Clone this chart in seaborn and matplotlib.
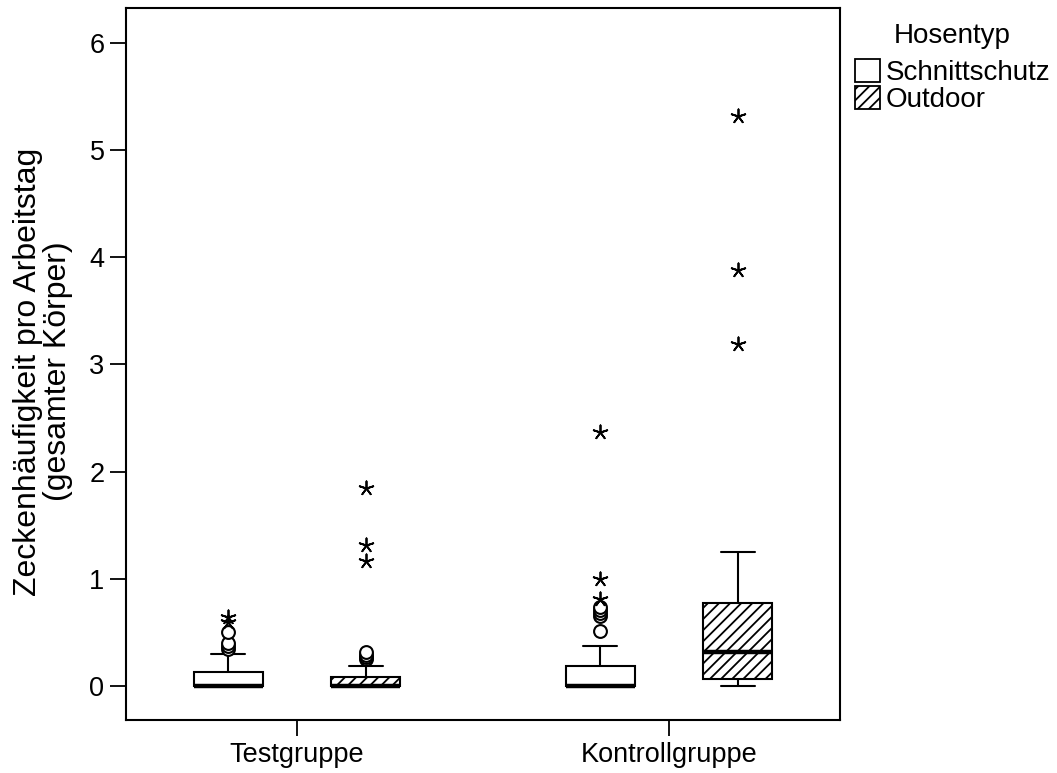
import numpy as np
import pandas as pd
import matplotlib
matplotlib.use("Agg")
import matplotlib.pyplot as plt
from matplotlib.patches import Patch
import seaborn as sns

# ---- data ----
groups = ["Testgruppe", "Kontrollgruppe"]
hose_types = ["Schnittschutz", "Outdoor"]

box_group = ["Testgruppe", "Testgruppe", "Kontrollgruppe", "Kontrollgruppe"]
box_hose = ["Schnittschutz", "Outdoor", "Schnittschutz", "Outdoor"]
whisker_low = [0.0, 0.0, 0.0, 0.0]
q1 = [0.0, 0.0, 0.0, 0.065]
median = [0.0, 0.0, 0.0, 0.32]
q3 = [0.13, 0.08, 0.19, 0.77]
whisker_high = [0.30, 0.19, 0.377, 1.25]

# outliers: circles (mild) and stars (extreme), per box
circle_outliers = [
    [0.35, 0.37, 0.40, 0.50],
    [0.25, 0.27, 0.29, 0.32],
    [0.51, 0.65, 0.68, 0.71, 0.74],
    [],
]
star_outliers = [
    [0.60, 0.64],
    [1.17, 1.32, 1.85],
    [0.81, 1.00, 2.37],
    [3.19, 3.88, 5.32],
]

y_ticks = [0, 1, 2, 3, 4, 5, 6]
y_label = "Zeckenhäufigkeit pro Arbeitstag\n(gesamter Körper)"
legend_title = "Hosentyp"

# ---- build long table for seaborn (5 summary values per box) ----
rows = []
for g, h, lo, a, m, b, hi in zip(box_group, box_hose, whisker_low, q1, median, q3, whisker_high):
    for v in (lo, a, m, b, hi):
        rows.append({"Gruppe": g, "Hosentyp": h, "Wert": v})
df = pd.DataFrame(rows)

sns.set_style("ticks")
plt.rcParams["font.family"] = ["Liberation Sans", "DejaVu Sans"]
plt.rcParams["text.color"] = "black"
plt.rcParams["axes.labelcolor"] = "black"
plt.rcParams["xtick.color"] = "black"
plt.rcParams["ytick.color"] = "black"
plt.rcParams["hatch.linewidth"] = 1.3
plt.rcParams["hatch.color"] = "black"

fig = plt.figure(figsize=(10.57, 7.73), dpi=100)
ax = fig.add_axes([126 / 1057, 1 - 720 / 773, (840 - 126) / 1057, (720 - 7.5) / 773])

BOX_WIDTH = 0.74
GAP = 0.5
LW = 1.5

sns.boxplot(
    data=df, x="Gruppe", y="Wert", hue="Hosentyp",
    order=groups, hue_order=hose_types,
    palette={"Schnittschutz": "white", "Outdoor": "white"},
    saturation=1, linecolor="black", linewidth=LW,
    width=BOX_WIDTH, gap=GAP, whis=(0, 100), showfliers=False,
    medianprops=dict(linewidth=3.2, color="black"),
    legend=False, ax=ax,
)

# hatch the Outdoor boxes (boxes right of their category centre)
for p in ax.patches:
    verts = p.get_path().vertices
    cx = (verts[:, 0].min() + verts[:, 0].max()) / 2
    if cx - round(cx) > 0:
        p.set_hatch("///")
        p.set_edgecolor("black")

# outliers at the dodged box positions
n_h = len(hose_types)
for i, (g, h) in enumerate(zip(box_group, box_hose)):
    gi = groups.index(g)
    hi_ = hose_types.index(h)
    each = BOX_WIDTH / n_h
    xpos = gi + each * hi_ + each / 2 - BOX_WIDTH / 2
    c = circle_outliers[i]
    if c:
        ax.scatter([xpos] * len(c), c, s=85, marker="o", facecolors="white",
                   edgecolors="black", linewidths=1.5, zorder=5)
    s = star_outliers[i]
    if s:
        ax.scatter([xpos] * len(s), s, s=105, marker=(5, 2, 0), color="black",
                   linewidths=1.3, zorder=6)

ax.set_xlim(-0.46, 1.46)
ax.set_ylim(-0.317, 6.33)
ax.set_yticks(y_ticks)
ax.set_yticklabels([str(t) for t in y_ticks])
ax.set_xlabel("")
ax.set_ylabel(y_label, fontsize=23, linespacing=1.0, labelpad=12, color="black")
ax.yaxis.label.set_y(0.489)
ax.tick_params(axis="both", direction="out", length=11.5, width=1.3,
               labelsize=19.5, color="black", labelcolor="black", pad=4)
for sp in ax.spines.values():
    sp.set_visible(True)
    sp.set_color("black")
    sp.set_linewidth(1.5)

handles = [
    Patch(facecolor="white", edgecolor="black", linewidth=1.3, label="Schnittschutz"),
    Patch(facecolor="white", edgecolor="black", linewidth=1.3, hatch="///", label="Outdoor"),
]
leg = ax.legend(
    handles=handles, title=legend_title, loc="upper left",
    bbox_to_anchor=(855 / 1057, 1 - 23 / 773), bbox_transform=fig.transFigure,
    frameon=False, fontsize=20, title_fontsize=20,
    handlelength=0.9, handleheight=0.9, handletextpad=0.2,
    labelspacing=0.0, borderpad=0, borderaxespad=0,
)
leg._legend_box.sep = 7
for t in leg.get_texts():
    t.set_color("black")
leg.get_title().set_color("black")

fig.savefig("out.png", dpi=100, facecolor="white")
